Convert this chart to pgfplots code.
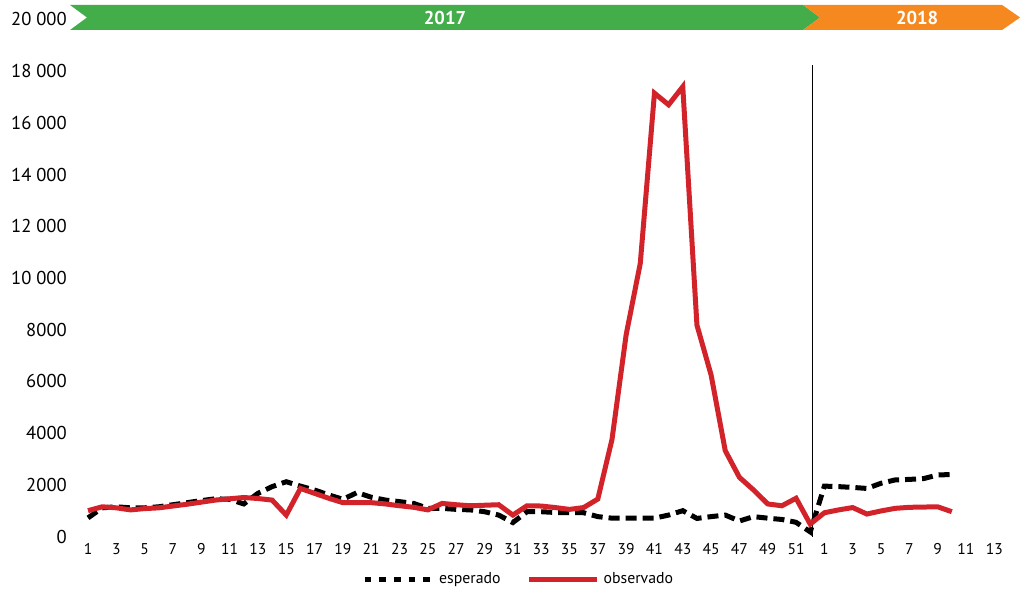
\documentclass[border=0pt]{standalone}
\usepackage{pgfplots}
\usepackage{pgfplotstable}
\pgfplotsset{compat=1.18}
\usepackage{fontspec}
\setmainfont{PT Sans}
\definecolor{obsred}{RGB}{210,35,42}
\definecolor{bngreen}{RGB}{67,173,74}
\definecolor{bnorange}{RGB}{245,137,32}

\pgfplotstableread{
i esp obs
1 720 1000
2 1110 1150
3 1150 1110
4 1110 1030
5 1110 1080
6 1150 1110
7 1230 1180
8 1310 1250
9 1390 1330
10 1460 1410
11 1440 1460
12 1260 1510
13 1670 1470
14 1930 1410
15 2120 830
16 1950 1860
17 1800 1670
18 1610 1480
19 1440 1310
20 1700 1310
21 1520 1310
22 1410 1260
23 1350 1190
24 1280 1130
25 1090 1030
26 1090 1280
27 1050 1230
28 1030 1190
29 960 1210
30 830 1230
31 540 830
32 960 1190
33 960 1180
34 930 1120
35 920 1050
36 920 1120
37 770 1450
38 710 3750
39 710 7800
40 710 10570
41 710 17150
42 830 16700
43 1000 17400
44 700 8180
45 770 6250
46 830 3320
47 600 2290
48 770 1800
49 710 1260
50 660 1190
51 550 1480
52 180 480
53 1950 920
54 1930 1030
55 1900 1120
56 1860 870
57 2060 990
58 2190 1090
59 2210 1130
60 2240 1140
61 2380 1150
62 2400 960
}\datatable

\begin{document}
\begin{tikzpicture}
\begin{axis}[
  scale only axis,
  width=467.28pt, height=258.5pt,
  xmin=0, xmax=66, ymin=0, ymax=20000,
  clip=false,
  scaled ticks=false,
  axis line style={draw=none},
  major tick length=0pt,
  xtick pos=bottom, ytick pos=left,
  xtick={1,3,...,65},
  xticklabels={1,3,5,7,9,11,13,15,17,19,21,23,25,27,29,31,33,35,37,39,41,43,45,47,49,51,1,3,5,7,9,11,13},
  ytick={0,2000,...,20000},
  yticklabels={0,2000,4000,6000,8000,10 000,12 000,14 000,16 000,18 000,20 000},
  x tick label style={font=\fontsize{7.8}{9}\selectfont},
  y tick label style={font=\fontsize{9.3}{11}\selectfont},
  legend columns=2,
  legend cell align=left,
  legend style={at={(0.477,-0.084)}, anchor=center, draw=none, fill=none,
    font=\fontsize{7.9}{9}\selectfont,
    /tikz/every even column/.append style={column sep=11pt}},
  legend image code/.code={\draw[#1] (0pt,0pt) -- (34pt,0pt);},
]
% banners
\fill[bngreen] (axis cs:-0.271,20561) -- (axis cs:51.494,20561) -- (axis cs:52.695,20077)
  -- (axis cs:51.494,19594) -- (axis cs:-0.271,19594) -- (axis cs:0.929,20077) -- cycle;
\fill[bnorange] (axis cs:51.494,20561) -- (axis cs:65.548,20561) -- (axis cs:66.819,20077)
  -- (axis cs:65.548,19594) -- (axis cs:51.494,19594) -- (axis cs:52.695,20077) -- cycle;
\node[text=white, font=\fontsize{9.3}{11}\selectfont\bfseries] at (axis cs:26.21,20077) {2017};
\node[text=white, font=\fontsize{9.3}{11}\selectfont\bfseries] at (axis cs:59.55,20077) {2018};
% separator
\draw[line width=0.75pt] (axis cs:52.17,0) -- (axis cs:52.17,18240);

\addplot[black, line width=2.5pt, dash pattern=on 5.5pt off 3pt,
  legend image code/.code={\draw[black, line width=2.5pt, dash pattern=on 3.3pt off 4pt] (0pt,0pt) -- (34pt,0pt);}]
  table[x=i, y=esp] {\datatable};
\addlegendentry{esperado}
\addplot[obsred, line width=2.5pt] table[x=i, y=obs] {\datatable};
\addlegendentry{observado}

\coordinate (bbsw) at (axis cs:-5.215,-2186);
\coordinate (bbne) at (axis cs:67.45,20754);
\end{axis}
\pgfresetboundingbox
\useasboundingbox (bbsw) rectangle (bbne);
\end{tikzpicture}
\end{document}
